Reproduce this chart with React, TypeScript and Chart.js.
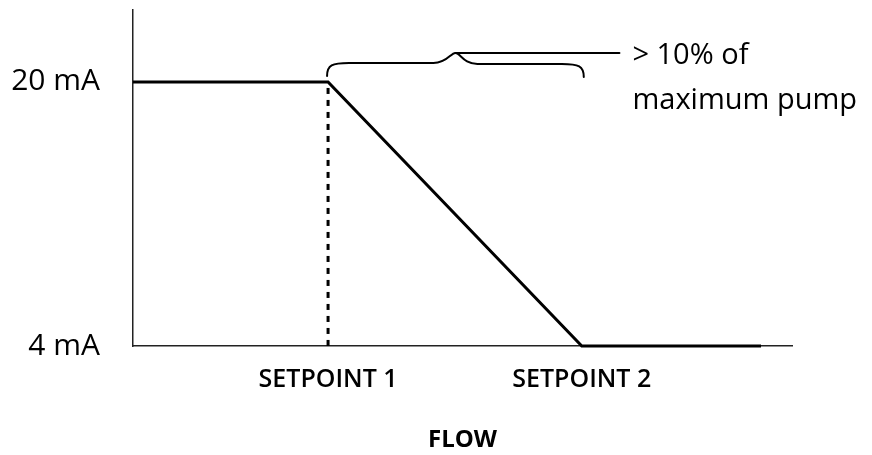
import React, { useEffect, useRef } from "react";
import { Chart, registerables } from "chart.js";

Chart.register(...registerables);

// ---- data ----
const FLOW_POINTS = [0, 29.6, 68.1, 95.3];
const MA_POINTS = [20, 20, 4, 4];
const SETPOINT_VALUES = [29.6, 68.1];
const SETPOINT_LABELS = ["SETPOINT 1", "SETPOINT 2"];
const DASH_FLOW = [29.6, 29.6];
const DASH_MA = [20, 4];
const MA_TICKS = [4, 20];
const MA_TICK_LABELS = ["4 mA", "20 mA"];
const X_TITLE = "FLOW";
const NOTE_LINES = ["> 10% of", "maximum pump"];
const FLOW_MIN = 0;
const FLOW_MAX = 100;
const MA_MIN = 4;
const MA_MAX = 24.36;

const FONT = "'Open Sans', 'DejaVu Sans', sans-serif";

const bracePlugin = {
  id: "braceNote",
  afterDatasetsDraw(chart: any) {
    const { ctx, scales } = chart;
    const x = scales.x;
    const y = scales.y;
    const x1 = x.getPixelForValue(SETPOINT_VALUES[0]) - 1;
    const x2 = x.getPixelForValue(SETPOINT_VALUES[1]) + 2;
    const yTop = y.getPixelForValue(MA_TICKS[1]);
    const bot = yTop - 6;
    const arm = yTop - 19;
    const peak = yTop - 29;
    const mid = (x1 + x2) / 2;
    ctx.save();
    ctx.strokeStyle = "#000";
    ctx.lineWidth = 2;
    ctx.lineCap = "round";
    ctx.beginPath();
    // left half
    ctx.moveTo(x1, bot);
    ctx.bezierCurveTo(x1, arm + 2, x1 + 5, arm, x1 + 22, arm);
    ctx.lineTo(mid - 22, arm);
    ctx.bezierCurveTo(mid - 8, arm, mid - 5, peak, mid, peak);
    // right half
    ctx.moveTo(mid, peak);
    ctx.bezierCurveTo(mid + 5, peak, mid + 8, arm + 1, mid + 22, arm + 1);
    ctx.lineTo(x2 - 22, arm + 1);
    ctx.bezierCurveTo(x2 - 5, arm + 1, x2, arm + 3, x2, bot + 1);
    ctx.stroke();
    // connector
    ctx.beginPath();
    ctx.moveTo(mid, peak);
    ctx.lineTo(mid + 164, peak);
    ctx.stroke();
    // note text
    ctx.fillStyle = "#000";
    ctx.font = `400 29px ${FONT}`;
    ctx.textAlign = "left";
    ctx.textBaseline = "alphabetic";
    ctx.fillText(NOTE_LINES[0], mid + 177, peak + 11);
    ctx.fillText(NOTE_LINES[1], mid + 177, peak + 56);
    ctx.restore();
  },
};

export default function App() {
  const ref = useRef<HTMLCanvasElement | null>(null);

  useEffect(() => {
    if (!ref.current) return;
    const chart = new Chart(ref.current, {
      type: "line",
      data: {
        datasets: [
          {
            data: FLOW_POINTS.map((f, i) => ({ x: f, y: MA_POINTS[i] })),
            borderColor: "#000",
            borderWidth: 3,
            pointRadius: 0,
            tension: 0,
            clip: false as any,
            borderJoinStyle: "miter",
          },
          {
            data: DASH_FLOW.map((f, i) => ({ x: f, y: DASH_MA[i] })),
            borderColor: "#000",
            borderWidth: 3,
            borderDash: [6, 6],
            borderDashOffset: 6,
            pointRadius: 0,
            clip: false as any,
          },
        ],
      },
      options: {
        animation: false,
        responsive: false,
        devicePixelRatio: 1,
        layout: { padding: { top: 10, right: 80, left: 0, bottom: 0 } },
        plugins: {
          legend: { display: false },
          tooltip: { enabled: false },
        },
        scales: {
          x: {
            type: "linear",
            min: FLOW_MIN,
            max: FLOW_MAX,
            grid: { display: false, drawTicks: false },
            border: { display: true, color: "#222", width: 1.5 },
            afterBuildTicks: (scale: any) => {
              scale.ticks = SETPOINT_VALUES.map((v) => ({ value: v }));
            },
            afterFit: (scale: any) => {
              scale.height = 109;
              scale.paddingLeft = 0;
              scale.paddingRight = 0;
              scale.paddingTop = 0;
              scale.paddingBottom = 0;
            },
            ticks: {
              autoSkip: false,
              maxRotation: 0,
              padding: 19,
              color: "#000",
              font: { family: FONT, size: 25, weight: "600" },
              callback: (_v: any, i: number) => SETPOINT_LABELS[i],
            },
            title: {
              display: true,
              text: X_TITLE,
              color: "#000",
              font: { family: FONT, size: 24, weight: "700" },
              padding: { top: 20, bottom: 0 },
            },
          },
          y: {
            type: "linear",
            min: MA_MIN,
            max: MA_MAX,
            grid: { display: false, drawTicks: false },
            border: { display: true, color: "#222", width: 1.5 },
            afterBuildTicks: (scale: any) => {
              scale.ticks = MA_TICKS.map((v) => ({ value: v }));
            },
            afterFit: (scale: any) => {
              scale.width = 133;
              scale.paddingLeft = 0;
              scale.paddingRight = 0;
              scale.paddingTop = 0;
              scale.paddingBottom = 0;
            },
            ticks: {
              padding: 33,
              color: "#000",
              font: { family: FONT, size: 30, weight: "400" },
              callback: (v: any) => MA_TICK_LABELS[MA_TICKS.indexOf(Number(v))],
            },
          },
        },
      },
      plugins: [bracePlugin],
    });
    return () => chart.destroy();
  }, []);

  return (
    <div style={{ position: "absolute", left: 0, top: 0, width: 872, height: 455, background: "#fff" }}>
      <canvas ref={ref} width={872} height={455} style={{ display: "block" }} />
    </div>
  );
}
